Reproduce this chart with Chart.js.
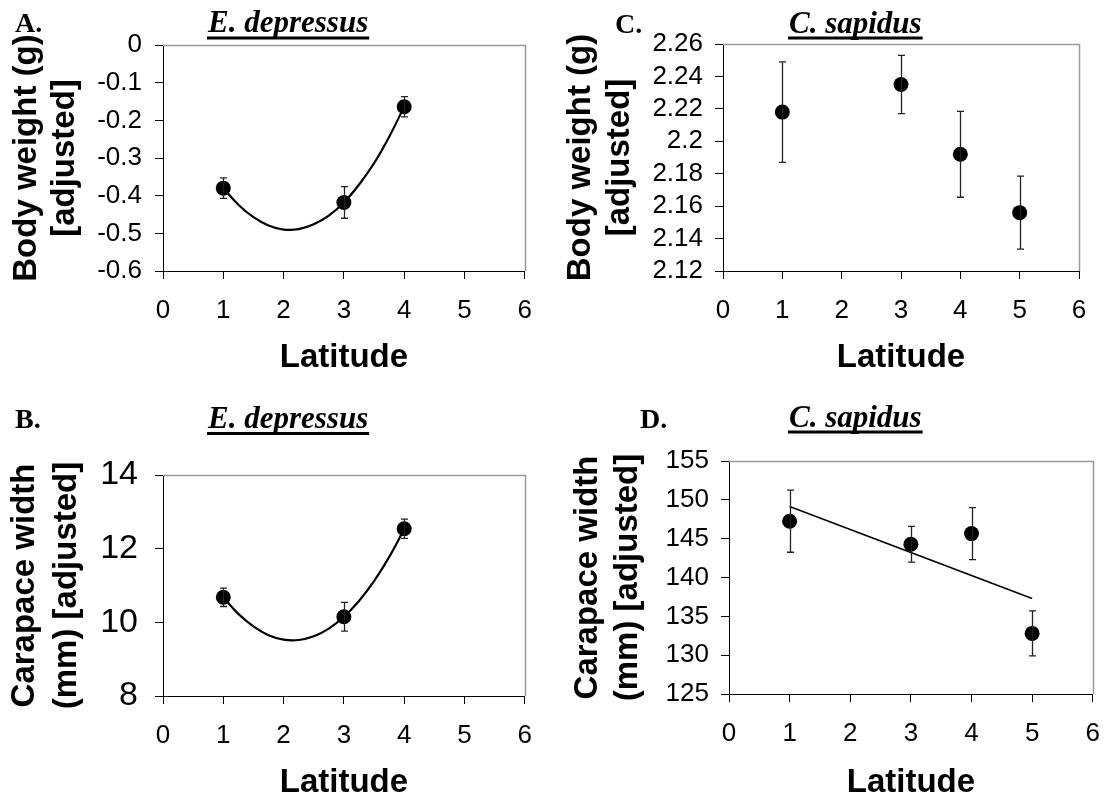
<!DOCTYPE html>
<html>
<head>
<meta charset="utf-8">
<title>Body size versus latitude</title>
<script src="https://cdn.jsdelivr.net/npm/chart.js@4.4.1/dist/chart.umd.min.js"></script>
<style>
  html, body { margin: 0; padding: 0; background: #fff; overflow: hidden; }
  #page { position: relative; width: 1116px; height: 799px; }
  canvas { position: absolute; }
</style>
</head>
<body>
<div id="page">
  <canvas id="panelA" width="548" height="390" style="left:0px;top:0px"></canvas>
  <canvas id="panelC" width="560" height="390" style="left:556px;top:0px"></canvas>
  <canvas id="panelB" width="548" height="404" style="left:0px;top:395px"></canvas>
  <canvas id="panelD" width="560" height="404" style="left:556px;top:395px"></canvas>
</div>
<script>
// ---- Shared x axis -------------------------------------------------------
const latitudeTicks = [0, 1, 2, 3, 4, 5, 6];

// ---- E. depressus (sites at latitude 1, 3, 4) ---------------------------
const latitudeE = [1, 3, 4];
const bodyWeightE = [-0.380, -0.418, -0.164];
const bodyWeightESE = [0.027, 0.042, 0.027];
const bodyWeightETicks = [-0.6, -0.5, -0.4, -0.3, -0.2, -0.1, 0];
const bodyWeightETickLabels = ['-0.6', '-0.5', '-0.4', '-0.3', '-0.2', '-0.1', '0'];
// quadratic trend curve
const bodyWeightEFitX = [1, 1.25, 1.5, 1.75, 2, 2.25, 2.5, 2.75, 3, 3.25, 3.5, 3.75, 4];
const bodyWeightEFitY = [-0.380, -0.424, -0.457, -0.479, -0.490, -0.489, -0.476, -0.453, -0.418, -0.371, -0.314, -0.244, -0.164];

const carapaceE = [10.68, 10.15, 12.54];
const carapaceESE = [0.25, 0.39, 0.26];
const carapaceETicks = [8, 10, 12, 14];
const carapaceETickLabels = ['8', '10', '12', '14'];
const carapaceEFitX = [1, 1.25, 1.5, 1.75, 2, 2.25, 2.5, 2.75, 3, 3.25, 3.5, 3.75, 4];
const carapaceEFitY = [10.68, 10.23, 9.89, 9.65, 9.53, 9.52, 9.62, 9.83, 10.15, 10.58, 11.12, 11.77, 12.53];

// ---- C. sapidus (sites at latitude 1, 3, 4, 5) --------------------------
const latitudeC = [1, 3, 4, 5];
const bodyWeightC = [2.218, 2.235, 2.192, 2.156];
const bodyWeightCSE = [0.031, 0.018, 0.0265, 0.0225];
const bodyWeightCTicks = [2.12, 2.14, 2.16, 2.18, 2.2, 2.22, 2.24, 2.26];
const bodyWeightCTickLabels = ['2.12', '2.14', '2.16', '2.18', '2.2', '2.22', '2.24', '2.26'];

const carapaceC = [147.25, 144.29, 145.65, 132.8];
const carapaceCSE = [4.0, 2.3, 3.35, 2.9];
const carapaceCTicks = [125, 130, 135, 140, 145, 150, 155];
const carapaceCTickLabels = ['125', '130', '135', '140', '145', '150', '155'];
// linear trend line
const carapaceCFitX = [1, 5];
const carapaceCFitY = [149.14, 137.31];

// ---- Drawing helpers -----------------------------------------------------
const SANS = "'Liberation Sans', Arial, Helvetica, sans-serif";
const SERIF = "'Liberation Serif', 'Times New Roman', Times, serif";

const toPoints = (xs, ys) => xs.map((x, i) => ({ x: x, y: ys[i] }));

// grey top and right edges of the plot box
const plotFrame = {
  id: 'plotFrame',
  beforeDatasetsDraw(chart) {
    const { ctx, chartArea: a } = chart;
    ctx.save();
    ctx.strokeStyle = '#9a9a9a';
    ctx.lineWidth = 1.5;
    ctx.beginPath();
    ctx.moveTo(a.left, Math.round(a.top) + 0.5);
    ctx.lineTo(Math.round(a.right) + 0.5, Math.round(a.top) + 0.5);
    ctx.lineTo(Math.round(a.right) + 0.5, a.bottom);
    ctx.stroke();
    ctx.restore();
  }
};

// vertical error bars with small caps
const errorBars = {
  id: 'errorBars',
  afterDatasetsDraw(chart) {
    const { ctx } = chart;
    const xs = chart.scales.x, ys = chart.scales.y;
    chart.data.datasets.forEach(ds => {
      if (!ds.errorBars) return;
      ctx.save();
      ctx.strokeStyle = '#222';
      ctx.lineWidth = 1.3;
      ds.data.forEach((p, i) => {
        const e = ds.errorBars[i];
        const px = Math.round(xs.getPixelForValue(p.x)) + 0.5;
        const yTop = ys.getPixelForValue(p.y + e);
        const yBot = ys.getPixelForValue(p.y - e);
        ctx.beginPath();
        ctx.moveTo(px, yTop); ctx.lineTo(px, yBot);
        ctx.moveTo(px - 3.5, yTop); ctx.lineTo(px + 3.5, yTop);
        ctx.moveTo(px - 3.5, yBot); ctx.lineTo(px + 3.5, yBot);
        ctx.stroke();
      });
      ctx.restore();
    });
  }
};

// panel letter and underlined species name
const panelHeading = {
  id: 'panelHeading',
  afterDraw(chart, args, opts) {
    const { ctx } = chart;
    ctx.save();
    ctx.fillStyle = '#000';
    ctx.textBaseline = 'alphabetic';
    ctx.textAlign = 'left';
    ctx.font = 'bold 28px ' + SERIF;
    ctx.fillText(opts.letter, opts.letterX, opts.letterY);
    ctx.font = 'italic bold 31px ' + SERIF;
    ctx.fillText(opts.title, opts.titleX, opts.titleY);
    const w = ctx.measureText(opts.title).width;
    ctx.fillRect(opts.titleX - 1, opts.underlineY, w + 2, 3);
    ctx.restore();
  }
};

function makePanel(canvasId, p) {
  const canvas = document.getElementById(canvasId);
  const W = canvas.width, H = canvas.height;
  const datasets = [];
  if (p.fitX) {
    datasets.push({
      data: toPoints(p.fitX, p.fitY),
      showLine: true,
      borderColor: '#000',
      borderWidth: p.fitWidth,
      pointRadius: 0,
      tension: p.fitX.length > 2 ? 0.4 : 0,
      order: 2
    });
  }
  datasets.push({
    data: toPoints(p.xs, p.ys),
    errorBars: p.se,
    showLine: false,
    pointStyle: 'circle',
    pointRadius: 7.5,
    pointBackgroundColor: '#000',
    pointBorderWidth: 0,
    order: 1
  });

  return new Chart(canvas, {
    type: 'scatter',
    data: { datasets: datasets },
    plugins: [plotFrame, errorBars, panelHeading],
    options: {
      responsive: false,
      animation: false,
      events: [],
      layout: {
        padding: {
          left: 0,
          top: p.plot.t - p.top,
          right: W - (p.plot.r - p.left),
          bottom: 0
        }
      },
      plugins: {
        legend: { display: false },
        tooltip: { enabled: false },
        panelHeading: {
          letter: p.letter,
          letterX: p.letterX - p.left, letterY: p.letterY - p.top,
          title: p.title,
          titleX: p.titleX - p.left, titleY: p.titleY - p.top,
          underlineY: p.underlineY - p.top
        }
      },
      scales: {
        x: {
          type: 'linear',
          position: 'bottom',
          min: 0, max: 6,
          afterBuildTicks: s => { s.ticks = latitudeTicks.map(v => ({ value: v })); },
          afterFit: s => { s.height = H - (p.plot.b - p.top); },
          ticks: {
            color: '#000',
            font: { family: SANS, size: 26 },
            padding: 16,
            maxRotation: 0,
            autoSkip: false,
            callback: (v, i) => String(latitudeTicks[i])
          },
          grid: { drawOnChartArea: false, drawTicks: true, tickLength: 8, color: '#000', tickColor: '#000', lineWidth: 1 },
          border: { display: true, color: '#000', width: 1 },
          title: {
            display: true,
            text: 'Latitude',
            color: '#000',
            font: { family: SANS, size: 33, weight: 'bold', lineHeight: 1 },
            padding: { top: 0, bottom: p.xTitlePad }
          }
        },
        y: {
          type: 'linear',
          position: 'left',
          min: p.yTicks[0], max: p.yTicks[p.yTicks.length - 1],
          afterBuildTicks: s => { s.ticks = p.yTicks.map(v => ({ value: v })); },
          afterFit: s => { s.width = p.plot.l - p.left; },
          ticks: {
            color: '#000',
            font: { family: SANS, size: p.yTickSize },
            padding: p.yTickPad,
            autoSkip: false,
            callback: (v, i) => p.yTickLabels[i]
          },
          grid: { drawOnChartArea: false, drawTicks: true, tickLength: 8, color: '#000', tickColor: '#000', lineWidth: 1 },
          border: { display: true, color: '#000', width: 1 },
          title: {
            display: true,
            text: p.yTitle,
            color: '#000',
            font: { family: SANS, size: 33, weight: 'bold', lineHeight: p.yTitleLineHeight },
            padding: { top: p.yTitlePad, bottom: 0 }
          }
        }
      }
    }
  });
}

makePanel('panelA', {
  left: 0, top: 0,
  plot: { l: 163, r: 525, t: 45, b: 271 },
  xs: latitudeE, ys: bodyWeightE, se: bodyWeightESE,
  fitX: bodyWeightEFitX, fitY: bodyWeightEFitY, fitWidth: 2.2,
  yTicks: bodyWeightETicks, yTickLabels: bodyWeightETickLabels,
  yTickSize: 26, yTickPad: 13,
  yTitle: ['Body weight (g)', '[adjusted]'], yTitleLineHeight: 1.15, yTitlePad: 8,
  xTitlePad: 16,
  letter: 'A.', letterX: 15, letterY: 32,
  title: 'E. depressus', titleX: 208, titleY: 32, underlineY: 36.5
});

makePanel('panelC', {
  left: 556, top: 0,
  plot: { l: 723, r: 1079, t: 44, b: 271 },
  xs: latitudeC, ys: bodyWeightC, se: bodyWeightCSE,
  yTicks: bodyWeightCTicks, yTickLabels: bodyWeightCTickLabels,
  yTickSize: 26, yTickPad: 12,
  yTitle: ['Body weight (g)', '[adjusted]'], yTitleLineHeight: 1.17, yTitlePad: 6,
  xTitlePad: 16,
  letter: 'C.', letterX: 615, letterY: 33,
  title: 'C. sapidus', titleX: 789, titleY: 33, underlineY: 36.5
});

makePanel('panelB', {
  left: 0, top: 395,
  plot: { l: 163, r: 525, t: 475, b: 696 },
  xs: latitudeE, ys: carapaceE, se: carapaceESE,
  fitX: carapaceEFitX, fitY: carapaceEFitY, fitWidth: 2.2,
  yTicks: carapaceETicks, yTickLabels: carapaceETickLabels,
  yTickSize: 34, yTickPad: 17,
  yTitle: ['Carapace width', '(mm) [adjusted]'], yTitleLineHeight: 1.27, yTitlePad: 4,
  xTitlePad: 0,
  letter: 'B.', letterX: 15, letterY: 428,
  title: 'E. depressus', titleX: 208, titleY: 428, underlineY: 432
});

makePanel('panelD', {
  left: 556, top: 395,
  plot: { l: 729, r: 1101, t: 461, b: 694 },
  xs: latitudeC, ys: carapaceC, se: carapaceCSE,
  fitX: carapaceCFitX, fitY: carapaceCFitY, fitWidth: 1.6,
  yTicks: carapaceCTicks, yTickLabels: carapaceCTickLabels,
  yTickSize: 26, yTickPad: 12,
  yTitle: ['Carapace width', '(mm) [adjusted]'], yTitleLineHeight: 1.21, yTitlePad: 12,
  xTitlePad: 0,
  letter: 'D.', letterX: 640, letterY: 428,
  title: 'C. sapidus', titleX: 789, titleY: 427, underlineY: 430.5
});
</script>
</body>
</html>
